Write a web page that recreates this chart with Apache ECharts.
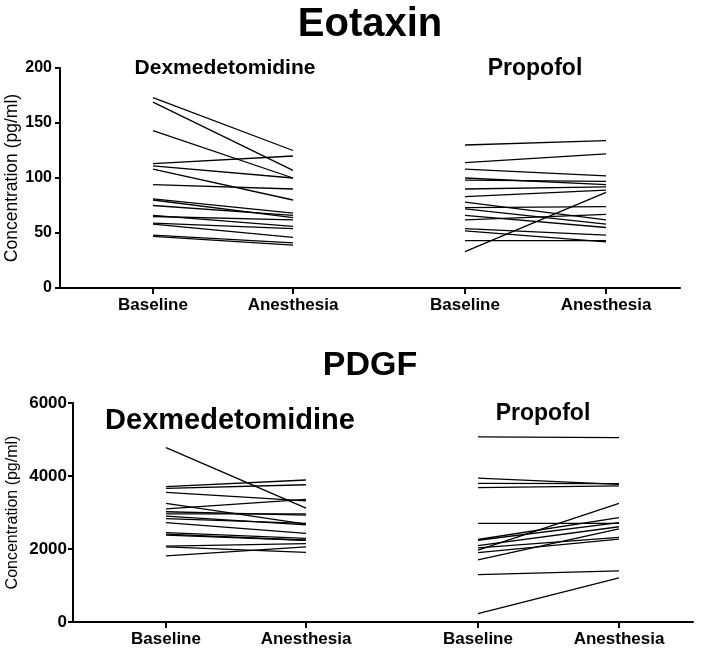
<!DOCTYPE html>
<html>
<head>
<meta charset="utf-8">
<script src="https://cdn.jsdelivr.net/npm/echarts@6/dist/echarts.min.js"></script>
<style>html,body{margin:0;padding:0;background:#fff}#c{width:709px;height:648px}</style>
</head>
<body>
<div id="c"></div>
<script>
// ---- data ----
var timepoints = ['Baseline', 'Anesthesia'];
var groups = ['Dexmedetomidine', 'Propofol'];

var eotaxinDexBaseline   = [173, 169, 143, 113, 111, 108, 94, 81, 80, 75, 66, 65, 59, 58, 48, 47];
var eotaxinDexAnesthesia = [125, 107, 100, 120, 100, 80, 90, 68, 64, 66, 56, 62, 54, 46, 41, 39];
var eotaxinPropBaseline   = [130, 114, 108, 100, 98, 90, 83, 78, 73, 72, 66, 62, 54, 52, 43, 33];
var eotaxinPropAnesthesia = [134, 122, 102, 94, 97, 92, 89, 62, 74, 58, 55, 67, 48, 42, 43, 87];

var pdgfDexBaseline   = [4780, 3710, 3660, 3550, 3250, 3100, 3020, 2960, 2900, 2830, 2720, 2450, 2410, 2380, 2080, 2060, 1810];
var pdgfDexAnesthesia = [3120, 3890, 3760, 3320, 2680, 3360, 2930, 2960, 2660, 2700, 2430, 2290, 2240, 2240, 2150, 1910, 2060];
var pdgfPropBaseline   = [5070, 3940, 3800, 3680, 2700, 2260, 2240, 2090, 2030, 1970, 1900, 1700, 1300, 230];
var pdgfPropAnesthesia = [5050, 3770, 3790, 3730, 2700, 2860, 2720, 2610, 2320, 3250, 2270, 2550, 1400, 1210];

var eotaxinTicks = [0, 50, 100, 150, 200];
var pdgfTicks = [0, 2000, 4000, 6000];

// ---- layout (axis units along x) ----
var xPos = [93, 233, 405, 546];   // Dex Baseline, Dex Anesthesia, Prop Baseline, Prop Anesthesia
var xMax = 620;
var FONT = 'Liberation Sans, Arial, Helvetica, sans-serif';

var chart = echarts.init(document.getElementById('c'), null, {renderer: 'canvas'});

function pairSeries(base, anes, x0, x1, gridIdx) {
  var out = [];
  for (var i = 0; i < base.length; i++) {
    out.push({
      type: 'line', xAxisIndex: gridIdx, yAxisIndex: gridIdx,
      data: [[x0, base[i]], [x1, anes[i]]],
      symbol: 'none', silent: true, animation: false,
      lineStyle: {color: '#000', width: 1.3}
    });
  }
  return out;
}

function xAxisCfg(gridIdx) {
  return {
    type: 'value', gridIndex: gridIdx, min: 0, max: xMax,
    splitLine: {show: false},
    axisLine: {show: true, onZero: false, lineStyle: {color: '#000', width: 2}},
    axisTick: {show: true, length: 6, lineStyle: {color: '#000', width: 2}, customValues: xPos},
    axisLabel: {
      show: true, customValues: xPos, margin: 9,
      color: '#000', fontFamily: FONT, fontWeight: 'bold', fontSize: 17,
      formatter: function (v) { var k = xPos.indexOf(v); return k >= 0 ? timepoints[k % 2] : ''; }
    }
  };
}

function yAxisCfg(gridIdx, ticks, nameGap, labelSize, nameSize, labelMargin) {
  return {
    type: 'value', gridIndex: gridIdx, min: ticks[0], max: ticks[ticks.length - 1],
    interval: ticks[1] - ticks[0],
    name: 'Concentration (pg/ml)', nameLocation: 'middle', nameGap: nameGap,
    nameMoveOverlap: false,
    nameTextStyle: {color: '#000', fontFamily: FONT, fontSize: nameSize},
    splitLine: {show: false},
    axisLine: {show: true, lineStyle: {color: '#000', width: 2}},
    axisTick: {show: true, length: 5, lineStyle: {color: '#000', width: 2}},
    axisLabel: {color: '#000', fontFamily: FONT, fontWeight: 'bold', fontSize: labelSize, margin: labelMargin,
      formatter: function (v) { return String(v); }}
  };
}

var series = []
  .concat(pairSeries(eotaxinDexBaseline, eotaxinDexAnesthesia, xPos[0], xPos[1], 0))
  .concat(pairSeries(eotaxinPropBaseline, eotaxinPropAnesthesia, xPos[2], xPos[3], 0))
  .concat(pairSeries(pdgfDexBaseline, pdgfDexAnesthesia, xPos[0], xPos[1], 1))
  .concat(pairSeries(pdgfPropBaseline, pdgfPropAnesthesia, xPos[2], xPos[3], 1));

function label(text, x, y, size) {
  return {text: text, left: x, top: y, textAlign: 'center', padding: 0,
    textStyle: {fontFamily: FONT, fontWeight: 'bold', fontSize: size, color: '#000'}};
}

chart.setOption({
  animation: false,
  backgroundColor: '#fff',
  title: [
    label('Eotaxin', 370, 5, 40),
    label('PDGF', 370, 349, 34),
    label(groups[0], 225, 58, 21),
    label(groups[1], 535, 57, 23),
    label(groups[0], 230, 406, 29),
    label(groups[1], 543, 402, 23)
  ],
  grid: [
    {left: 60, top: 68, width: 620, height: 220, containLabel: false, outerBoundsMode: 'none'},
    {left: 73, top: 403, width: 620, height: 219, containLabel: false, outerBoundsMode: 'none'}
  ],
  xAxis: [xAxisCfg(0), xAxisCfg(1)],
  yAxis: [yAxisCfg(0, eotaxinTicks, 39, 16, 17.5, 8), yAxisCfg(1, pdgfTicks, 52, 17, 16, 6)],
  series: series
});
</script>
</body>
</html>
